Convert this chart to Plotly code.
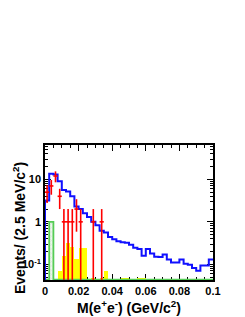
import numpy as np
import plotly.graph_objects as go

# ---- data ----
bin_width = 0.0025
n_bins = 40
edges = [round(i * bin_width, 5) for i in range(n_bins + 1)]

mc_total = [3.2, 13.5, 13.0, 9.0, 5.6, 5.2, 4.0, 2.3, 2.0, 1.6,
            1.3, 1.0, 0.83, 0.62, 0.56, 0.44, 0.39, 0.35, 0.33, 0.32,
            0.29, 0.245, 0.23, 0.16, 0.23, 0.18, 0.15, 0.148, 0.17, 0.13,
            0.11, 0.11, 0.13, 0.103, 0.098, 0.082, 0.07, 0.094, 0.094, 0.13]

background = [0, 0, 0, 0.068, 0.16, 0.31, 0.26, 0.13, 0.24, 0.24,
              0, 0.048, 0, 0.048, 0.07, 0, 0, 0, 0.048, 0.048,
              0, 0, 0.048, 0.048, 0, 0, 0, 0, 0, 0,
              0, 0, 0, 0, 0, 0, 0, 0, 0, 0]

peaking = [0, 1.0] + [0] * 38

data_bins = [0, 1, 2, 3, 4, 5, 6, 7, 8, 11, 13]
data_counts = [5, 7, 12, 4, 1, 1, 1, 2, 1, 1, 1]

y_log_range = [-1.37, 1.81]

# ---- derived ----
centers = [(edges[i] + edges[i + 1]) / 2 for i in range(n_bins)]
floor = 10 ** (y_log_range[0] + 0.01)
below = 1e-4

fig = go.Figure()

# yellow background histogram
bx = [centers[i] for i in range(n_bins) if background[i] > 0]
by = [background[i] for i in range(n_bins) if background[i] > 0]
fig.add_trace(go.Bar(x=bx, y=by, width=bin_width, marker=dict(color="#ffff00", line=dict(width=0)),
                     showlegend=False))

# green hatched peaking histogram
gx = [centers[i] for i in range(n_bins) if peaking[i] > 0]
gy = [peaking[i] for i in range(n_bins) if peaking[i] > 0]
fig.add_trace(go.Bar(x=gx, y=gy, width=bin_width,
                     marker=dict(color="#eef6ee",
                                 pattern=dict(shape="x", fgcolor="#9cc79c", size=3, solidity=0.2),
                                 line=dict(width=0)),
                     showlegend=False))
g_step_y = [max(v, floor) for v in peaking]
fig.add_trace(go.Scatter(x=edges, y=g_step_y + [g_step_y[-1]], mode="lines",
                         line=dict(color="#55cc55", width=1.8, shape="hv"), showlegend=False))

# blue total MC histogram
bx_step = [edges[0]] + edges
by_step = [below] + mc_total + [mc_total[-1]]
fig.add_trace(go.Scatter(x=bx_step, y=by_step, mode="lines",
                         line=dict(color="#1010ff", width=2, shape="hv"), showlegend=False))

# red data with errors
dx = [centers[i] for i in data_bins]
err_up = [np.sqrt(n) for n in data_counts]
err_dn = [min(np.sqrt(n), n - below) for n in data_counts]
fig.add_trace(go.Scatter(x=dx, y=data_counts, mode="markers",
                         marker=dict(color="red", size=1),
                         error_y=dict(type="data", symmetric=False, array=err_up, arrayminus=err_dn,
                                      color="red", thickness=1.6, width=0),
                         error_x=dict(type="constant", value=bin_width / 2, color="red",
                                      thickness=1.6, width=0),
                         showlegend=False))

font_main = "Liberation Sans, Arial, Helvetica, sans-serif"

# page body has an 8px margin, so the figure is made 8px smaller and margins shifted
fig.update_layout(
    width=237, height=309,
    margin=dict(l=37, r=32, t=137, b=37, autoexpand=False),
    paper_bgcolor="white", plot_bgcolor="white",
    barmode="overlay", bargap=0,
    font=dict(family=font_main, color="black"),
)
fig.add_annotation(text="Events/ (2.5 MeV/c<sup>2</sup>)", textangle=-90,
                   xref="paper", yref="paper", x=-0.22, y=0.385,
                   xanchor="left", yanchor="middle", showarrow=False,
                   font=dict(size=14, family=font_main, weight="bold", color="black"))
fig.update_xaxes(
    range=[0, 0.1], showgrid=False, zeroline=False, automargin=False,
    showline=True, linecolor="black", linewidth=1.5, mirror="allticks",
    ticks="inside", ticklen=6, tickwidth=1, tickcolor="black",
    tickvals=[0, 0.02, 0.04, 0.06, 0.08, 0.1], ticktext=["0", "0.02", "0.04", "0.06", "0.08", "0.1"],
    tickfont=dict(size=11, family=font_main, weight="bold"),
    minor=dict(ticks="inside", ticklen=3, dtick=0.005, tickcolor="black"),
    title=dict(text="M(e<sup>+</sup>e<sup>-</sup>) (GeV/c<sup>2</sup>)",
               font=dict(size=14, family=font_main, weight="bold"), standoff=7),
    layer="below traces",
)
fig.update_yaxes(
    type="log", range=y_log_range, showgrid=False, zeroline=False, automargin=False,
    showline=True, linecolor="black", linewidth=1.5, mirror="allticks",
    ticks="inside", ticklen=6, tickwidth=1, tickcolor="black",
    tickvals=[0.1, 1, 10], ticktext=["10<sup>-1</sup>", "1", "10"],
    tickfont=dict(size=11, family=font_main, weight="bold"),
    minor=dict(ticks="inside", ticklen=3, tickcolor="black",
               tickvals=[v * m for m in [0.01, 0.1, 1, 10] for v in range(2, 10)]),
    layer="below traces",
)

fig.write_html("out.html")
